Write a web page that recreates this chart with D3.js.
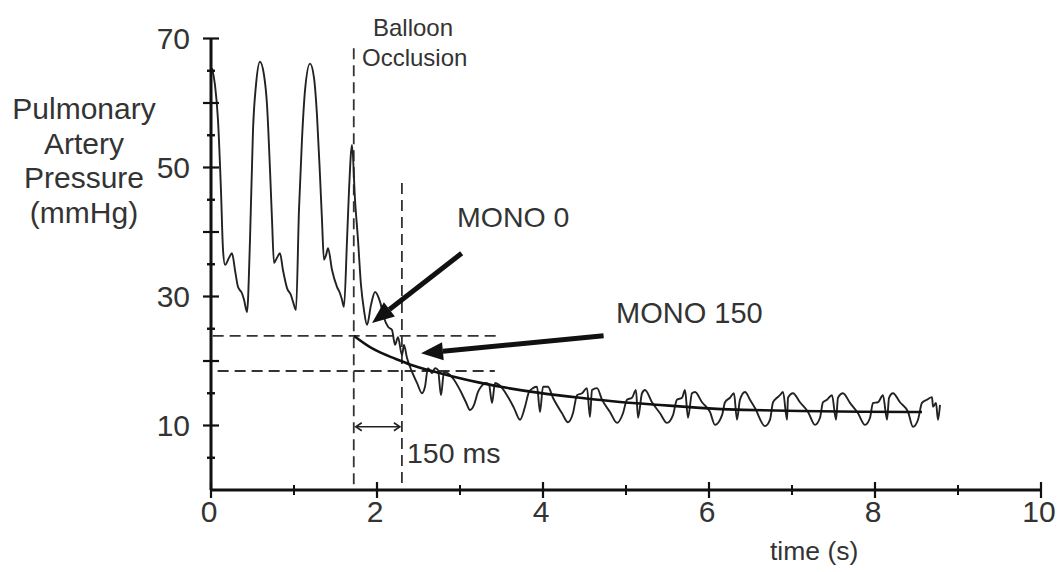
<!DOCTYPE html>
<html>
<head>
<meta charset="utf-8">
<script src="https://cdn.jsdelivr.net/npm/d3@7"></script>
<style>
  html, body { margin: 0; padding: 0; background: #fff; }
  svg { display: block; }
  text { font-family: "Liberation Sans", Arial, sans-serif; fill: #333; }
</style>
</head>
<body>
<svg id="chart" width="1057" height="572"></svg>
<script>
// Pulmonary artery pressure trace before and after balloon occlusion
const waveTime = [0.012,0.048,0.084,0.120,0.145,0.169,0.217,0.253,0.289,0.325,0.373,0.398,0.434,
  0.470,0.506,0.542,0.590,0.639,0.675,0.711,0.735,0.759,0.795,0.831,0.867,0.916,0.964,0.988,1.024,
  1.060,1.096,1.133,1.193,1.241,1.277,1.313,1.337,1.361,1.386,1.410,1.458,1.518,1.554,1.578,1.602,
  1.639,1.663,1.699,1.735,1.771,1.807,1.843,1.880,
  1.928,1.976,2.036,2.084,2.133,2.181,2.217,2.253,2.301,2.325,2.361,2.422,2.482,2.542,
  2.578,2.614,2.663,2.699,2.735,2.771,2.807,2.855,2.928,3.000,3.072,3.120,
  3.169,3.217,3.253,3.313,3.349,3.386,3.422,3.470,3.566,3.651,3.723,
  3.783,3.831,3.880,3.928,3.964,4.000,4.060,4.120,4.229,4.301,
  4.361,4.410,4.470,4.530,4.566,4.590,4.651,4.711,4.807,4.892,
  4.964,5.012,5.072,5.120,5.145,5.193,5.229,5.313,5.410,5.494,
  5.566,5.614,5.675,5.711,5.747,5.795,5.831,5.916,6.012,6.072,
  6.157,6.193,6.253,6.301,6.337,6.373,6.434,6.494,6.554,6.675,
  6.735,6.771,6.819,6.855,6.892,6.940,6.952,7.012,7.096,7.193,7.277,
  7.337,7.373,7.422,7.482,7.530,7.554,7.614,7.699,7.795,7.880,
  7.940,7.976,8.036,8.096,8.145,8.169,8.217,8.301,8.398,8.458,
  8.518,8.566,8.627,8.687,8.699,8.735,8.759,8.783];
const wavePressure = [65.4,62.8,57.4,46.5,37.2,34.9,36.0,36.7,34.1,31.5,30.5,29.5,27.6,
  38.8,55.8,62.8,66.4,64.3,59.7,49.6,41.9,35.2,36.0,36.7,34.1,31.3,30.2,29.2,27.9,
  43.4,54.3,62.0,66.1,63.9,58.1,48.8,41.9,35.7,36.4,37.5,34.1,31.5,30.5,29.5,28.4,
  38.8,46.5,53.5,45.0,38.8,31.8,27.9,25.6,
  28.7,30.7,29.2,26.7,25.3,24.8,22.5,23.7,20.9,22.5,20.5,18.3,16.6,15.0,
  16.0,18.9,18.1,18.9,18.6,14.7,18.3,18.1,17.1,15.5,13.6,12.4,
  13.2,15.2,16.0,16.6,16.4,13.5,16.6,16.3,14.7,12.7,10.9,
  12.9,15.2,15.8,16.0,12.1,16.0,16.0,14.3,11.9,10.5,
  11.9,14.7,15.0,15.8,11.3,15.5,15.8,14.0,12.1,10.4,
  11.9,14.0,14.3,15.5,11.2,15.0,15.5,13.6,11.9,10.4,
  11.6,14.0,14.3,15.5,11.2,15.0,15.2,13.6,12.1,10.1,
  11.6,13.6,14.3,15.0,10.9,14.0,15.2,14.0,12.7,9.9,
  10.9,13.6,14.3,14.7,15.2,10.9,14.3,15.0,13.6,12.1,10.1,
  11.2,13.6,14.0,14.7,10.9,14.3,15.0,13.5,11.9,10.1,
  11.2,13.5,13.6,14.7,10.9,14.3,15.0,13.6,12.1,9.8,
  10.9,13.5,14.0,14.4,12.9,13.5,10.9,13.2];

// Decay curve fitted to the post-occlusion pressure
const fitTime = [1.723,1.952,2.193,2.398,2.639,2.880,3.241,3.566,3.964,4.446,4.928,5.410,5.892,6.373,7.096,7.819,8.566];
const fitPressure = [23.9,21.7,20.5,19.4,18.5,17.7,16.6,15.8,15.0,14.3,13.6,13.2,12.7,12.4,12.25,12.1,12.1];

// Axis ticks
const xMajorTicks = [0, 2, 4, 6, 8, 10];
const xMinorTicks = [1, 3, 5, 7, 9];
const yMajorTicks = [10, 20, 30, 40, 50, 60, 70];
const yMinorTicks = [5, 15, 25, 35, 45, 55, 65];
const yTickLabels = [10, 30, 50, 70];

// Event markers
const occlusionTime = 1.72;
const mono150Time = 2.30;
const mono0Pressure = 23.9;
const mono150Pressure = 18.45;

const svg = d3.select("#chart");
const x = d3.scaleLinear().domain([0, 10]).range([211, 1041]);
const y = d3.scaleLinear().domain([0, 70]).range([490, 38.5]);

// Dashed guide lines
const dash = svg.append("g").attr("stroke", "#333").attr("stroke-width", 1.8)
  .attr("stroke-dasharray", "11,6").attr("fill", "none");
dash.append("line").attr("x1", x(occlusionTime)).attr("x2", x(occlusionTime))
  .attr("y1", y(68.5)).attr("y2", y(0));
dash.append("line").attr("x1", x(mono150Time)).attr("x2", x(mono150Time))
  .attr("y1", y(47.6)).attr("y2", y(0));
dash.append("line").attr("x1", x(0.02)).attr("x2", x(3.45))
  .attr("y1", y(mono0Pressure)).attr("y2", y(mono0Pressure));
dash.append("line").attr("x1", x(0.08)).attr("x2", x(3.42))
  .attr("y1", y(mono150Pressure)).attr("y2", y(mono150Pressure));

// Pressure waveform
const wave = waveTime.map((t, i) => [t, wavePressure[i]]);
svg.append("path").datum(wave)
  .attr("fill", "none").attr("stroke", "#222").attr("stroke-width", 1.9)
  .attr("stroke-linejoin", "round")
  .attr("d", d3.line().x(d => x(d[0])).y(d => y(d[1])).curve(d3.curveMonotoneX));

// Fitted decay
const fit = fitTime.map((t, i) => [t, fitPressure[i]]);
svg.append("path").datum(fit)
  .attr("fill", "none").attr("stroke", "#111").attr("stroke-width", 2.6)
  .attr("d", d3.line().x(d => x(d[0])).y(d => y(d[1])).curve(d3.curveBasis));

// Axes
const axisG = svg.append("g").attr("stroke", "#111");
axisG.append("line").attr("x1", x(0)).attr("x2", x(10)).attr("y1", y(0)).attr("y2", y(0)).attr("stroke-width", 3);
axisG.append("line").attr("x1", x(0)).attr("x2", x(0)).attr("y1", y(0)).attr("y2", y(70)).attr("stroke-width", 3);
axisG.selectAll(".xmaj").data(xMajorTicks).join("line")
  .attr("x1", d => x(d)).attr("x2", d => x(d)).attr("y1", y(0) - 8).attr("y2", y(0) + 8).attr("stroke-width", 2.2);
axisG.selectAll(".xmin").data(xMinorTicks).join("line")
  .attr("x1", d => x(d)).attr("x2", d => x(d)).attr("y1", y(0) - 5).attr("y2", y(0) + 5).attr("stroke-width", 2);
axisG.selectAll(".ymaj").data(yMajorTicks).join("line")
  .attr("x1", x(0) - 8).attr("x2", x(0) + 8).attr("y1", d => y(d)).attr("y2", d => y(d)).attr("stroke-width", 2.2);
axisG.selectAll(".ymin").data(yMinorTicks).join("line")
  .attr("x1", x(0) - 4).attr("x2", x(0) + 4).attr("y1", d => y(d)).attr("y2", d => y(d)).attr("stroke-width", 2.4);

svg.selectAll(".xlab").data(xMajorTicks).join("text")
  .attr("x", d => x(d) - 2).attr("y", y(0) + 32)
  .attr("text-anchor", "middle").attr("font-size", 30).text(d => d);
svg.selectAll(".ylab").data(yTickLabels).join("text")
  .attr("x", x(0) - 21).attr("y", d => y(d) + 10)
  .attr("text-anchor", "end").attr("font-size", 30).text(d => d);

// Axis titles
const yTitle = ["Pulmonary", "Artery", "Pressure", "(mmHg)"];
svg.selectAll(".ytitle").data(yTitle).join("text")
  .attr("x", 84).attr("y", (d, i) => 119 + i * 34.5)
  .attr("text-anchor", "middle").attr("font-size", 30).text(d => d);
svg.append("text").attr("x", 770).attr("y", 560).attr("font-size", 26.5).text("time (s)");

// Annotations
svg.append("text").attr("x", 413).attr("y", 36).attr("text-anchor", "middle").attr("font-size", 24).text("Balloon");
svg.append("text").attr("x", 362).attr("y", 66).attr("font-size", 24).text("Occlusion");
svg.append("text").attr("x", 457).attr("y", 227).attr("font-size", 28.5).text("MONO 0");
svg.append("text").attr("x", 616).attr("y", 323).attr("font-size", 29).text("MONO 150");
svg.append("text").attr("x", 407).attr("y", 463).attr("font-size", 28.5).text("150 ms");

// Heavy arrows pointing at the two readings
function arrow(t0, p0, t1, p1) {
  const x0 = x(t0), y0 = y(p0), x1 = x(t1), y1 = y(p1);
  const ang = Math.atan2(y1 - y0, x1 - x0);
  const len = 22, half = 9;
  const bx = x1 - len * Math.cos(ang), by = y1 - len * Math.sin(ang);
  svg.append("line").attr("x1", x0).attr("y1", y0).attr("x2", bx).attr("y2", by)
    .attr("stroke", "#111").attr("stroke-width", 5);
  const pts = [[x1, y1],
    [bx + half * Math.sin(ang), by - half * Math.cos(ang)],
    [bx - half * Math.sin(ang), by + half * Math.cos(ang)]];
  svg.append("polygon").attr("points", pts.map(p => p.join(",")).join(" ")).attr("fill", "#111");
}
arrow(3.02, 36.7, 1.94, 25.9);
arrow(4.73, 23.9, 2.53, 21.2);

// Interval marker between occlusion and the 150 ms reading
const iy = y(9.8);
const ix0 = x(occlusionTime) + 2, ix1 = x(mono150Time) - 2;
const span = svg.append("g").attr("stroke", "#222").attr("stroke-width", 1.6).attr("fill", "none");
span.append("line").attr("x1", ix0).attr("x2", ix1).attr("y1", iy).attr("y2", iy);
span.append("polyline").attr("points", `${ix0 + 6},${iy - 4} ${ix0},${iy} ${ix0 + 6},${iy + 4}`);
span.append("polyline").attr("points", `${ix1 - 6},${iy - 4} ${ix1},${iy} ${ix1 - 6},${iy + 4}`);
</script>
</body>
</html>
